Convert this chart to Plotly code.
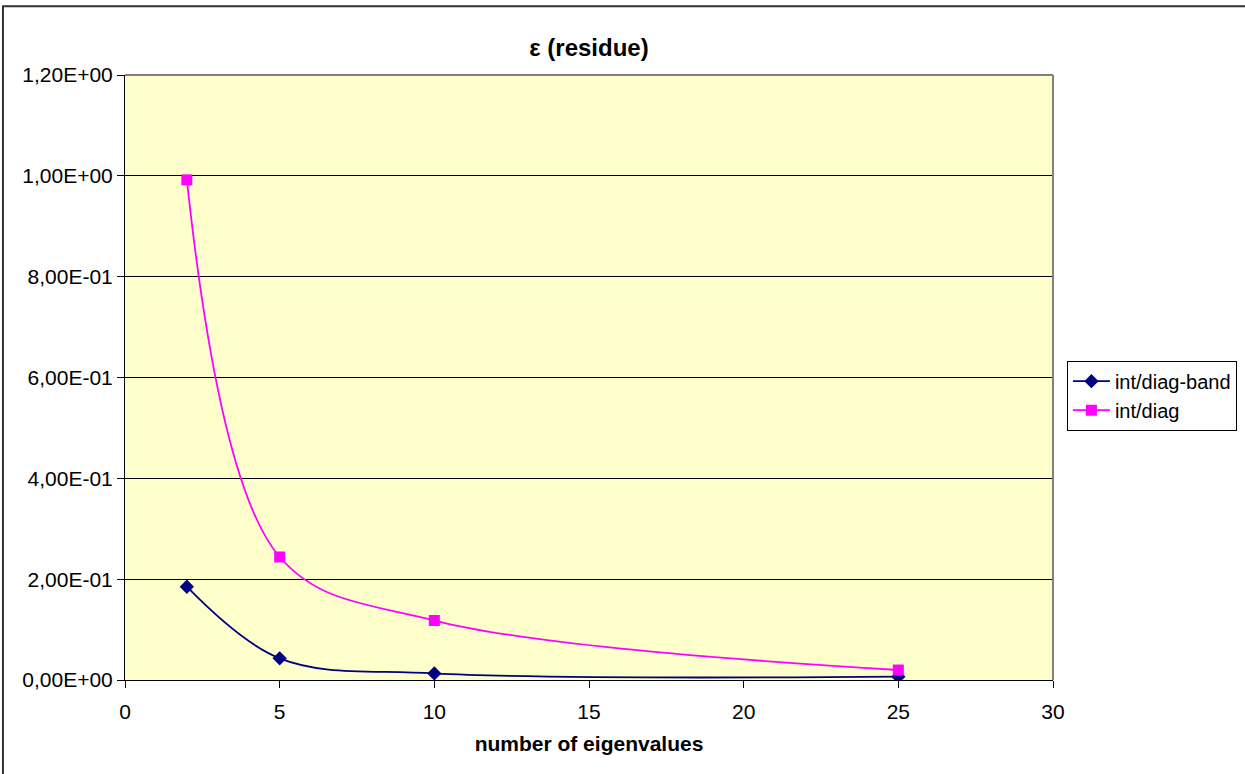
import plotly.graph_objects as go

# Residue versus number of eigenvalues for the two preconditioners
eigenvalues = [2, 5, 10, 25]
int_diag_band = [0.185, 0.043, 0.013, 0.0066]
int_diag = [0.992, 0.244, 0.118, 0.0198]

y_tick_vals = [0.0, 0.2, 0.4, 0.6, 0.8, 1.0, 1.2]
y_tick_text = ["0,00E+00", "2,00E-01", "4,00E-01", "6,00E-01", "8,00E-01", "1,00E+00", "1,20E+00"]
x_tick_vals = [0, 5, 10, 15, 20, 25, 30]

FONT = "Liberation Sans, Arial, sans-serif"

fig = go.Figure()
fig.add_trace(go.Scatter(
    x=eigenvalues, y=int_diag_band, name="int/diag-band",
    mode="lines+markers", line=dict(color="#000080", width=1.8, shape="spline", smoothing=1.0),
    marker=dict(symbol="diamond", size=11, color="#000080"),
))
fig.add_trace(go.Scatter(
    x=eigenvalues, y=int_diag, name="int/diag",
    mode="lines+markers", line=dict(color="#FF00FF", width=1.8, shape="spline", smoothing=1.0),
    marker=dict(symbol="square", size=11, color="#FF00FF"),
))

fig.update_layout(
    width=1245, height=774,
    margin=dict(l=125, r=192, t=75, b=94, autoexpand=False),
    paper_bgcolor="white",
    plot_bgcolor="#FFFFCC",
    font=dict(family=FONT, size=20, color="black"),
    title=dict(text="<b>ε (residue)</b>", x=0.5, xref="paper", xanchor="center",
               y=0.939, yref="container", yanchor="middle",
               font=dict(family=FONT, size=24, color="black")),
    showlegend=True,
    legend=dict(x=1.015, xanchor="left", y=0.47, yanchor="middle",
                bordercolor="black", borderwidth=1, bgcolor="white",
                font=dict(family=FONT, size=20), tracegroupgap=0,
                itemwidth=37),
    shapes=[
        # plot area frame: grey top and right edges
        dict(type="line", xref="paper", yref="paper", x0=0, x1=1, y0=1, y1=1,
             line=dict(color="#808080", width=2), layer="above"),
        dict(type="line", xref="paper", yref="paper", x0=1, x1=1, y0=0, y1=1,
             line=dict(color="#808080", width=2), layer="above"),
        # chart outer frame
        dict(type="rect", xref="paper", yref="paper", x0=-0.1315, x1=1.4, y0=-0.4, y1=1.1135,
             line=dict(color="#333333", width=2)),
    ],
)

fig.update_xaxes(
    range=[0, 30], tickvals=x_tick_vals, showgrid=False, zeroline=False,
    showline=True, linecolor="black", linewidth=1,
    ticks="outside", ticklen=7, tickcolor="black", ticklabelstandoff=6,
    tickfont=dict(family=FONT, size=21),
    title=dict(text="<b>number of eigenvalues</b>", font=dict(family=FONT, size=21), standoff=14),
)
fig.update_yaxes(
    range=[0, 1.2], tickvals=y_tick_vals, ticktext=y_tick_text,
    showgrid=True, gridcolor="black", gridwidth=1, zeroline=False,
    showline=True, linecolor="black", linewidth=1,
    ticks="outside", ticklen=7, tickcolor="black",
    tickfont=dict(family=FONT, size=21),
)

fig.write_html("out.html")
